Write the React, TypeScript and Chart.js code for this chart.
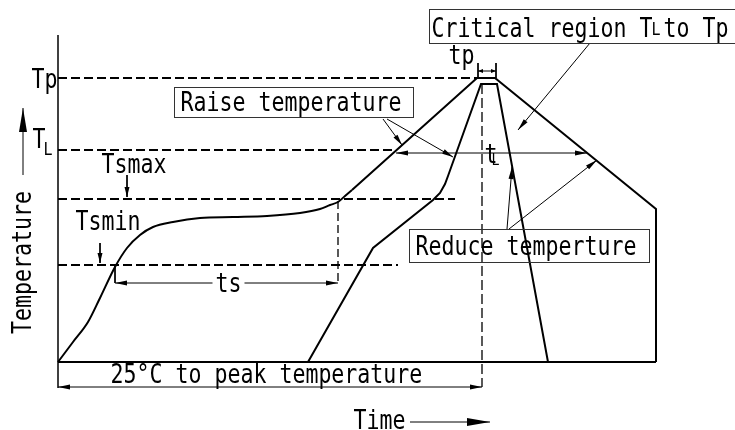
import React, { useEffect, useRef } from 'react';
import { Chart, registerables } from 'chart.js';

Chart.register(...registerables);

// ---- axis ranges (time units / temperature units, origin at 25 °C start) ----
const TIME_MIN = -58;
const TIME_MAX = 677;
const TEMP_MIN = -68;
const TEMP_MAX = 362;

// ---- reflow profile curves ----
const rampTime = [0, 15, 30, 42, 57, 69, 82, 95, 115, 142, 175, 209, 242, 262, 272, 280, 287, 294];
const rampTemp = [0, 20, 40, 64, 95, 114, 127, 135, 140, 144, 145, 146, 149, 153, 157, 160, 166, 172];
const peakTime = [294, 419, 437, 598, 598];
const peakTemp = [172, 284, 284, 153, 0];
const innerTime = [250, 315, 375, 382, 387, 390, 423, 439, 490];
const innerTemp = [0, 114, 162, 169, 178, 186, 278, 278, 0];

// ---- temperature levels ----
const levelLabels = ['Tp', 'TL', 'Tsmax', 'Tsmin'];
const levelTemps = [284, 212, 163, 97];
const levelEnds = [419, 337, 397, 340];

// ---- axes / markers ----
const timeAxisEnd = 598;
const tempAxisTop = 327;
const spanTemp = -25; // "25°C to peak" span level
const peakTimeMark = 424;
const tsStart = 57;
const tsEnd = 280;
const tsTemp = 79;
const tlStart = 338;
const tlEnd = 529;
const tlTemp = 209;
const tpStart = 420;
const tpEnd = 438;
const tpTemp = 291;

// ---- annotation arrows: [x1, y1, x2, y2, headAtStart, headAtEnd, headLen, headHalf] ----
const arrows: [number, number, number, number, boolean, boolean, number, number][] = [
  [69, 187, 69, 165, false, true, 10, 2.5],
  [42, 119, 42, 99, false, true, 10, 2.5],
  [tsStart, tsTemp, tsEnd, tsTemp, true, true, 12, 2.5],
  [tlStart, tlTemp, tlEnd, tlTemp, true, true, 12, 2.5],
  [0, spanTemp, peakTimeMark, spanTemp, true, true, 12, 2.5],
  [325, 243, 344, 217, false, true, 11, 2.5],
  [329, 243, 395, 205, false, true, 11, 2.5],
  [532, 319, 460, 232, false, true, 12, 2.5],
  [449, 133, 454, 195, false, true, 12, 2.5],
  [451, 133, 539, 202, false, true, 12, 2.5],
  [352, -60, 432, -60, false, true, 23, 4],
  [-35, 187, -35, 254, false, true, 24, 4],
  [tpStart, tpTemp, tpEnd, tpTemp, true, true, 5, 2],
];

// ---- text labels: [text, x, y, fontSize, rotated] ----
const labels: [string, number, number, number, boolean][] = [
  ['Tp', -26.5, 274, 26, false],
  ['T', -25.5, 214, 26, false],
  ['L', -14.5, 207, 18, false],
  ['Tsmax', 43.5, 189, 26, false],
  ['Tsmin', 17.5, 132, 26, false],
  ['25°C to peak temperature', 52.5, -21, 26, false],
  ['Time', 295.5, -67, 26, false],
  ['Temperature', -27, 28, 26, true],
  ['Raise temperature', 122.5, 251, 26, false],
  ['Critical region T', 373.5, 325, 26, false],
  ['L', 593.5, 327, 18, false],
  ['to Tp', 605.5, 325, 26, false],
  ['tp', 390.5, 298, 26, false],
  ['t', 426.5, 199, 26, false],
  ['L', 433.5, 197, 16, false],
  ['Reduce temperture', 357.5, 107, 26, false],
];
const tsLabel: [string, number, number] = ['ts', 157.5, 70];

// ---- boxes: [x1, y1, x2, y2] ----
const boxes: [number, number, number, number][] = [
  [116, 275, 355, 245],
  [371, 353, 700, 319],
  [351, 133, 591, 100],
];

const FONT = '"DejaVu Sans Mono", monospace';
const SX = 0.83;

function seg(xs: number[], ys: number[], extra: any = {}) {
  return {
    data: xs.map((x, i) => ({ x, y: ys[i] })),
    showLine: true,
    pointRadius: 0,
    borderColor: '#000',
    borderWidth: 1,
    tension: 0,
    clip: false,
    ...extra,
  };
}

const annotPlugin = {
  id: 'annot',
  afterDatasetsDraw(chart: any) {
    const ctx: CanvasRenderingContext2D = chart.ctx;
    const xs = chart.scales.x;
    const ys = chart.scales.y;
    const X = (v: number) => xs.getPixelForValue(v);
    const Y = (v: number) => ys.getPixelForValue(v);
    ctx.save();

    // boxes
    ctx.strokeStyle = '#333';
    ctx.lineWidth = 1;
    boxes.forEach(([x1, y1, x2, y2]) => {
      ctx.strokeRect(Math.round(X(x1)) + 0.5, Math.round(Y(y1)) + 0.5, Math.round(X(x2) - X(x1)), Math.round(Y(y2) - Y(y1)));
    });

    // arrow heads
    ctx.fillStyle = '#000';
    const head = (tx: number, ty: number, fx: number, fy: number, len: number, half: number) => {
      const ax = X(tx), ay = Y(ty), bx = X(fx), by = Y(fy);
      const d = Math.hypot(ax - bx, ay - by) || 1;
      const ux = (ax - bx) / d, uy = (ay - by) / d;
      const px = -uy, py = ux;
      const baseX = ax - ux * len, baseY = ay - uy * len;
      ctx.beginPath();
      ctx.moveTo(ax, ay);
      ctx.lineTo(baseX + px * half, baseY + py * half);
      ctx.lineTo(baseX - px * half, baseY - py * half);
      ctx.closePath();
      ctx.fill();
    };
    arrows.forEach(([x1, y1, x2, y2, hs, he, len, half]) => {
      if (he) head(x2, y2, x1, y1, len, half);
      if (hs) head(x1, y1, x2, y2, len, half);
    });

    // texts
    ctx.textBaseline = 'alphabetic';
    ctx.textAlign = 'left';
    const drawText = (t: string, x: number, y: number, size: number, rot: boolean) => {
      ctx.save();
      ctx.translate(X(x), Y(y));
      if (rot) ctx.rotate(-Math.PI / 2);
      ctx.scale(SX, 1);
      ctx.font = `${size}px ${FONT}`;
      ctx.fillStyle = '#000';
      ctx.fillText(t, 0, 0);
      ctx.restore();
    };
    // ts label with white background
    {
      const [t, x, y] = tsLabel;
      ctx.font = `26px ${FONT}`;
      const w = ctx.measureText(t).width * SX;
      ctx.fillStyle = '#fff';
      ctx.fillRect(X(x) - 3, Y(y) - 20, w + 6, 24);
      drawText(t, x, y, 26, false);
    }
    labels.forEach(([t, x, y, s, r]) => drawText(t, x, y, s, r));
    ctx.restore();
  },
};

export default function App() {
  const ref = useRef<HTMLCanvasElement | null>(null);
  useEffect(() => {
    if (!ref.current) return;
    const thick = { borderWidth: 2 };
    const dash = { borderWidth: 1.8, borderDash: [9, 4] };
    const datasets: any[] = [
      seg(rampTime, rampTemp, { ...thick, cubicInterpolationMode: 'monotone' }),
      seg(peakTime, peakTemp, thick),
      seg(innerTime, innerTemp, thick),
      seg([0, timeAxisEnd], [0, 0], thick),
      seg([0, 0], [spanTemp - 1, tempAxisTop], { borderWidth: 1.5 }),
      ...levelTemps.map((t, i) => seg([0, levelEnds[i]], [t, t], dash)),
      seg([peakTimeMark, peakTimeMark], [innerTemp[6], spanTemp], { borderWidth: 1.3, borderDash: [10, 4] }),
      seg([tsEnd, tsEnd], [rampTemp[15] + 1, tsTemp], { borderWidth: 1.3, borderDash: [8, 4] }),
      seg([tsStart, tsStart], [levelTemps[3], tsTemp], { borderWidth: 1 }),
      seg([tpStart, tpStart], [tpTemp + 8, levelTemps[0]], { borderWidth: 1 }),
      seg([tpEnd, tpEnd], [tpTemp + 8, levelTemps[0]], { borderWidth: 1 }),
      ...arrows.map(([x1, y1, x2, y2]) => seg([x1, x2], [y1, y2], { borderWidth: 1 })),
    ];
    const chart = new Chart(ref.current, {
      type: 'scatter',
      data: { datasets },
      options: {
        animation: false,
        responsive: false,
        devicePixelRatio: 1,
        layout: { padding: 0 },
        plugins: { legend: { display: false }, tooltip: { enabled: false } },
        events: [],
        scales: {
          x: { type: 'linear', min: TIME_MIN, max: TIME_MAX, display: false },
          y: { type: 'linear', min: TEMP_MIN, max: TEMP_MAX, display: false },
        },
      },
      plugins: [annotPlugin],
    });
    return () => chart.destroy();
  }, []);
  return (
    <div style={{ position: 'absolute', left: 0, top: 0, width: 735, height: 430, background: '#fff' }}>
      <canvas ref={ref} width={735} height={430} style={{ display: 'block' }} />
    </div>
  );
}
